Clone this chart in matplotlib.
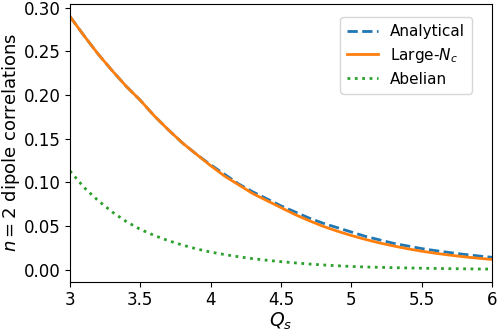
import matplotlib
matplotlib.use("Agg")
import matplotlib.pyplot as plt

qs = [3.0, 3.1, 3.2, 3.3, 3.4, 3.5, 3.6, 3.7, 3.8, 3.9, 4.0,
      4.1, 4.2, 4.3, 4.4, 4.5, 4.6, 4.7, 4.8, 4.9, 5.0,
      5.1, 5.2, 5.3, 5.4, 5.5, 5.6, 5.7, 5.8, 5.9, 6.0]
analytical = [0.290, 0.268, 0.247, 0.228, 0.210, 0.194, 0.176, 0.160, 0.145, 0.132, 0.120,
              0.109, 0.098, 0.089, 0.081, 0.073, 0.066, 0.059, 0.053, 0.048, 0.043,
              0.038, 0.034, 0.030, 0.027, 0.024, 0.0216, 0.0194, 0.0174, 0.0156, 0.014]
large_nc = [0.290, 0.268, 0.247, 0.228, 0.210, 0.194, 0.176, 0.160, 0.145, 0.132, 0.119,
            0.107, 0.097, 0.087, 0.079, 0.071, 0.063, 0.056, 0.0495, 0.044, 0.039,
            0.0345, 0.0305, 0.027, 0.0238, 0.021, 0.0186, 0.0165, 0.0146, 0.013, 0.0115]
abelian = [0.113, 0.094, 0.079, 0.066, 0.055, 0.046, 0.039, 0.033, 0.028, 0.0236, 0.020,
           0.0171, 0.0146, 0.0124, 0.0106, 0.009, 0.0076, 0.0063, 0.0052, 0.0043, 0.0035,
           0.0029, 0.0025, 0.0021, 0.0018, 0.0015, 0.0012, 0.0010, 0.0008, 0.0006, 0.0005]
xticks = [3, 3.5, 4, 4.5, 5, 5.5, 6]
xticklabels = ["3", "3.5", "4", "4.5", "5", "5.5", "6"]
yticks = [0.0, 0.05, 0.10, 0.15, 0.20, 0.25, 0.30]
yticklabels = ["0.00", "0.05", "0.10", "0.15", "0.20", "0.25", "0.30"]

fig = plt.figure(figsize=(4.98, 3.32), dpi=100)
ax = fig.add_axes([0.1406, 0.1515, 0.8474, 0.8365])
ax.plot(qs, analytical, "--", color="#1f77b4", lw=2, label="Analytical")
ax.plot(qs, large_nc, "-", color="#ff7f0e", lw=2, label="Large-$N_c$")
ax.plot(qs, abelian, ":", color="#2ca02c", lw=2, label="Abelian")
ax.set_xlim(3, 6)
ax.set_xticks(xticks)
ax.set_xticklabels(xticklabels)
ax.set_yticks(yticks)
ax.set_yticklabels(yticklabels)
ax.tick_params(labelsize=12)
ax.set_xlabel("$Q_s$", fontsize=13.5, labelpad=1)
ax.set_ylabel("$n = 2$ dipole correlations", fontsize=13)
ax.yaxis.set_label_coords(-0.113, 0.5)
ax.legend(fontsize=11, loc="upper right", bbox_to_anchor=(0.9526, 0.953),
          borderaxespad=0.0, borderpad=0.45, labelspacing=0.45)
fig.savefig("out.png", dpi=100)
